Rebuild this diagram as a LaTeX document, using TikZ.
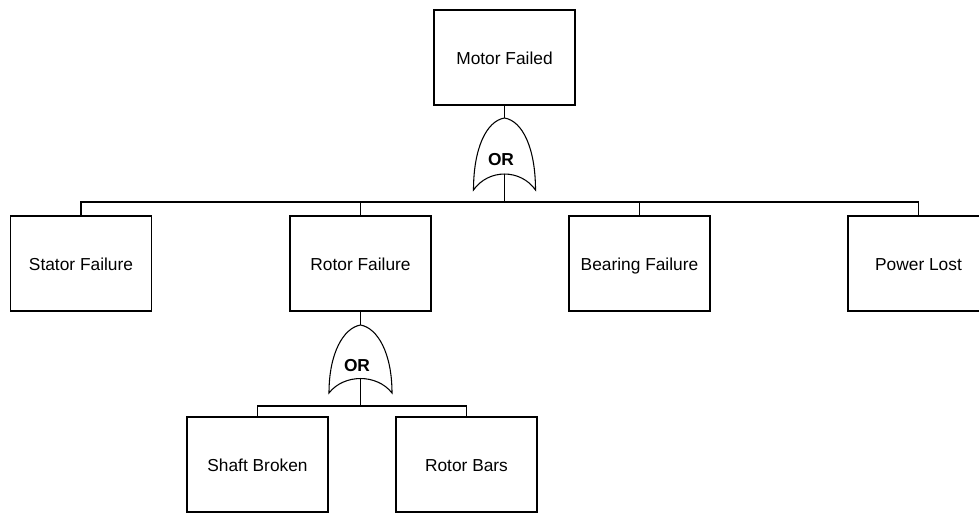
\documentclass[tikz,border=0pt]{standalone}
\usepackage{fontspec}
\setmainfont{Liberation Sans}

\tikzset{every picture/.style={line width=0.75pt}}
\tikzset{
  eventbox/.style={draw, line width=1pt, inner sep=0pt, minimum width=105.75pt, minimum height=71.25pt, text height=11pt, text depth=1.2pt, font=\fontsize{13}{15}\selectfont},
  gateline/.style={draw, line width=0.8pt},
  gatelabel/.style={inner sep=0.75pt, font=\fontsize{13}{15}\selectfont\bfseries},
  link/.style={line width=1pt}
}

\begin{document}
\begin{tikzpicture}[x=0.75pt,y=0.75pt,yscale=-1,xscale=1]
\useasboundingbox (0,0) rectangle (979,513);
\clip (0,0) rectangle (979,513);

%Shape: Rectangle [top event]
\node [eventbox] (motor) at (504.5,57.5) {Motor Failed};

%Shape: Or Gate [first level]
\draw [gateline] (504.5,118) .. controls (486.5,121) and (473.5,148) .. (473.5,190) .. controls (488.5,168.7) and (520.5,168.7) .. (535.5,190) .. controls (535.5,148) and (522.5,121) .. (504.5,118) -- cycle ;
\coordinate (gatein) at (504.5,118);
\coordinate (gateout) at (504.5,174);
\coordinate (bus) at (504.5,202);
% Text Node
\node [gatelabel] (orlabel) at (501,160) {OR};

%Shape: Rectangle [second level]
\node [eventbox] (stator) at (81,263.5) {Stator Failure};
\node [eventbox] (rotor) at (360.5,263.5) {Rotor Failure};
\node [eventbox] (bearing) at (639.5,263.5) {Bearing Failure};
\node [eventbox] (power) at (918.5,263.5) {Power Lost};

%Shape: Or Gate [under rotor]
\draw [gateline] (360.5,325) .. controls (343.5,328) and (329,353) .. (329,393) .. controls (344,373.7) and (377,373.7) .. (392,393) .. controls (392,353) and (377.5,328) .. (360.5,325) -- cycle ;
\coordinate (subgatein) at (360.5,325);
\coordinate (subgateout) at (360.5,379);
\coordinate (subbus) at (360.5,406);
% Text Node
\node [gatelabel] (suborlabel) at (357,366) {OR};

%Shape: Rectangle [third level]
\node [eventbox] (shaft) at (257.5,464.5) {Shaft Broken};
\node [eventbox] (bars) at (466.5,464.5) {Rotor Bars};

%Straight Lines
\draw [link] (motor.south) -- (gatein) ;
\draw [link] (gateout) -- (bus) ;
\draw [link] (bus) -| (stator.north) ;
\draw [link] (bus) -| (rotor.north) ;
\draw [link] (bus) -| (bearing.north) ;
\draw [link] (bus) -| (power.north) ;

\draw [link] (rotor.south) -- (subgatein) ;
\draw [link] (subgateout) -- (subbus) ;
\draw [link] (subbus) -| (shaft.north) ;
\draw [link] (subbus) -| (bars.north) ;

\end{tikzpicture}
\end{document}
